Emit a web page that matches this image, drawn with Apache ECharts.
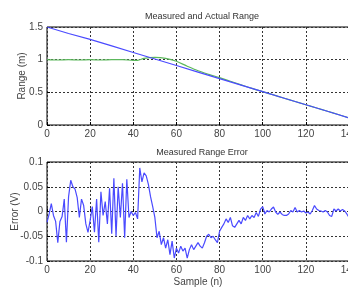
<!DOCTYPE html>
<html>
<head>
<meta charset="utf-8">
<script src="https://cdn.jsdelivr.net/npm/echarts@6/dist/echarts.min.js"></script>
<style>
  html, body { margin: 0; padding: 0; background: #fff; }
  #main { width: 348px; height: 288px; }
</style>
</head>
<body>
<div id="main"></div>
<script>
// actual range (blue), read every 10 samples
const actualX = [0, 10, 20, 30, 40, 50, 60, 70, 80, 90, 100, 110, 120, 130, 140];
const actualY = [1.5, 1.4, 1.31, 1.21, 1.11, 1.01, 0.91, 0.81, 0.71, 0.61, 0.51, 0.41, 0.31, 0.21, 0.11];

// measured range (green)
const measX = [0, 5, 10, 15, 20, 25, 30, 35, 40, 42, 45, 50, 55, 60, 65, 70, 75, 80, 85, 90, 95, 100, 105, 110, 115, 120, 125, 130, 135, 140];
const measY = [1.0, 0.995, 1.0, 0.995, 1.0, 0.995, 1.0, 1.0, 0.99, 0.99, 1.02, 1.035, 1.02, 0.975, 0.9, 0.83, 0.775, 0.725, 0.67, 0.615, 0.56, 0.51, 0.46, 0.41, 0.36, 0.31, 0.26, 0.21, 0.16, 0.11];

// measured range error, one value per sample 0..140
const errorY = [
  -0.022, -0.005, 0.016, -0.008, -0.02, -0.063, -0.02, -0.01, 0.025, -0.062,
  0.03, 0.063, 0.05, 0.045, 0.028, -0.012, 0.025, 0.012, -0.025, -0.042,
  -0.018, 0.01, -0.042, 0.025, -0.062, 0.04, -0.008, 0.02, -0.025, 0.047,
  -0.045, 0.067, -0.05, 0.05, -0.012, 0.057, -0.053, 0.065, -0.012, 0.0,
  -0.008, -0.002, -0.015, 0.088, 0.06, 0.078, 0.072, 0.055, 0.03, 0.01,
  -0.012, -0.053, -0.04, -0.067, -0.053, -0.074, -0.057, -0.087, -0.06, -0.094,
  -0.074, -0.084, -0.07, -0.08, -0.074, -0.094, -0.077, -0.067, -0.077, -0.07,
  -0.063, -0.07, -0.074, -0.063, -0.05, -0.046, -0.053, -0.05, -0.057, -0.063,
  -0.04, -0.032, -0.025, -0.015, -0.022, -0.012, -0.029, -0.032, -0.025, -0.018,
  -0.025, -0.012, -0.018, -0.008, -0.015, -0.008, -0.012, -0.002, -0.01, 0.005,
  0.01, -0.005, 0.002, -0.001, 0.005, 0.009, -0.001, -0.006, -0.001, -0.006,
  -0.008, -0.008, -0.005, 0.002, -0.001, 0.008, -0.001, 0.002, -0.001, 0.001,
  -0.003, -0.001, -0.005, 0.002, 0.012, 0.005, 0.002, 0.001, -0.001, 0.002,
  -0.001, -0.008, -0.01, 0.005, 0.001, 0.005, 0.001, 0.004, 0.001, -0.005,
  -0.012
];

const pairs = (xs, ys) => xs.map((x, i) => [x, ys[i]]);

const textStyle = { fontFamily: 'Liberation Sans, Arial, sans-serif', color: '#444', fontSize: 10 };

const xAxisBase = (gridIndex, name) => ({
    type: 'value',
    gridIndex: gridIndex,
    min: 0,
    max: 140,
    interval: 20,
    name: name,
    nameLocation: 'middle',
    nameGap: 16,
    nameMoveOverlap: false,
    nameTextStyle: textStyle,
    axisLine: { show: false },
    axisTick: { show: true, inside: true, length: 3, lineStyle: { color: '#000' } },
    axisLabel: Object.assign({ margin: 4 }, textStyle),
    splitLine: { show: true, lineStyle: { color: '#333', type: [2, 2], width: 1 } }
});

const yAxisBase = (gridIndex, min, max, interval, name, nameGap) => ({
    type: 'value',
    gridIndex: gridIndex,
    min: min,
    max: max,
    interval: interval,
    name: name,
    nameLocation: 'middle',
    nameGap: nameGap,
    nameMoveOverlap: false,
    nameTextStyle: textStyle,
    axisLine: { show: false },
    axisTick: { show: true, inside: true, length: 3, lineStyle: { color: '#000' } },
    axisLabel: Object.assign({ margin: 4 }, textStyle),
    splitLine: { show: true, lineStyle: { color: '#333', type: [2, 2], width: 1 } }
});

var myChart = echarts.init(document.getElementById('main'));

const option = {
    backgroundColor: '#fff',
    animation: false,
    title: [
        { text: 'Measured and Actual Range', left: 197, top: 7, textAlign: 'center',
          textStyle: { fontFamily: 'Liberation Sans, Arial, sans-serif', fontSize: 9, fontWeight: 'normal', color: '#333' } },
        { text: 'Measured Range Error', left: 197, top: 143, textAlign: 'center',
          textStyle: { fontFamily: 'Liberation Sans, Arial, sans-serif', fontSize: 9, fontWeight: 'normal', color: '#333' } }
    ],
    grid: [
        { left: 47, top: 27, width: 302, height: 98, show: true, borderColor: '#000', borderWidth: 1,
          backgroundColor: '#fff', outerBoundsMode: 'none', containLabel: false },
        { left: 47, top: 162, width: 302, height: 99, show: true, borderColor: '#000', borderWidth: 1,
          backgroundColor: '#fff', outerBoundsMode: 'none', containLabel: false }
    ],
    xAxis: [
        xAxisBase(0, ''),
        xAxisBase(1, 'Sample (n)')
    ],
    yAxis: [
        yAxisBase(0, 0, 1.5, 0.5, 'Range (m)', 20),
        yAxisBase(1, -0.1, 0.1, 0.05, 'Error (V)', 27)
    ],
    series: [
        {
            name: 'Measured',
            type: 'line',
            xAxisIndex: 0, yAxisIndex: 0,
            data: pairs(measX, measY),
            smooth: 0.3,
            showSymbol: false,
            lineStyle: { color: '#5cb85c', width: 1.2 }
        },
        {
            name: 'Actual',
            type: 'line',
            xAxisIndex: 0, yAxisIndex: 0,
            data: pairs(actualX, actualY),
            showSymbol: false,
            lineStyle: { color: '#4a4aff', width: 1.2 }
        },
        {
            name: 'Error',
            type: 'line',
            xAxisIndex: 1, yAxisIndex: 1,
            data: errorY.map((v, i) => [i, v]),
            showSymbol: false,
            lineStyle: { color: '#4a4aff', width: 1.2 }
        }
    ]
};

myChart.setOption(option);
</script>
</body>
</html>
